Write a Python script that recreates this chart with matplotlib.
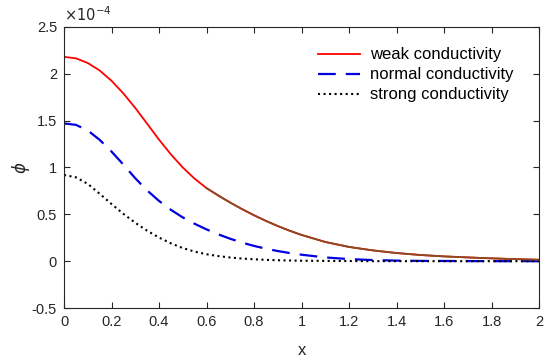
import numpy as np
import matplotlib
matplotlib.use('Agg')
import matplotlib.pyplot as plt

plt.rcParams['font.family'] = ['Liberation Sans', 'DejaVu Sans']
plt.rcParams['axes.unicode_minus'] = False

# x positions (finer steps on the steep part)
x = [0.0, 0.05, 0.1, 0.15, 0.2, 0.25, 0.3, 0.35, 0.4, 0.45, 0.5,
     0.55, 0.6, 0.65, 0.7, 0.75, 0.8, 0.85, 0.9, 0.95, 1.0,
     1.1, 1.2, 1.3, 1.4, 1.5, 1.6, 1.7, 1.8, 1.9, 2.0]

# phi values, in units of 1e-4
weak = [2.18, 2.165, 2.115, 2.035, 1.925, 1.79, 1.635, 1.467, 1.297, 1.14, 1.0,
        0.88, 0.78, 0.70, 0.625, 0.555, 0.49, 0.43, 0.375, 0.325, 0.28,
        0.205, 0.152, 0.115, 0.087, 0.066, 0.051, 0.04, 0.03, 0.022, 0.015]
normal = [1.47, 1.455, 1.395, 1.295, 1.17, 1.03, 0.885, 0.755, 0.643, 0.548, 0.467,
          0.399, 0.339, 0.286, 0.239, 0.198, 0.163, 0.133, 0.108, 0.087, 0.069,
          0.04, 0.022, 0.012, 0.006, 0.003, 0.002, 0.001, 0.0, 0.0, 0.0]
strong = [0.92, 0.895, 0.825, 0.72, 0.61, 0.505, 0.41, 0.325, 0.252, 0.19, 0.14,
          0.102, 0.074, 0.054, 0.039, 0.028, 0.02, 0.014, 0.01, 0.007, 0.005,
          0.003, 0.0015, 0.0, 0.0, 0.0, 0.0, 0.0, 0.0, 0.0, 0.0]

x = np.array(x)
weak = np.array(weak)

fig = plt.figure(figsize=(5.5, 3.59), dpi=100)
ax = fig.add_axes([0.1164, 0.142, 0.8636, 0.783])

ax.plot(x, weak, '-', color='#ff0000', linewidth=1.3, label='weak conductivity')
ax.plot(x, normal, '--', color='#0000e0', linewidth=1.6, dashes=(8, 4.5),
        label='normal conductivity')
ax.plot(x, strong, ':', color='black', linewidth=1.5, label='strong conductivity')
# brownish overlay on the tail of the red curve
tail = x >= 0.6
ax.plot(x[tail], weak[tail], '-', color='#8a4a22', linewidth=1.3)

ax.set_xlim(0, 2)
ax.set_ylim(-0.5, 2.5)
ax.set_xticks(np.arange(0, 2.01, 0.2))
ax.set_xticklabels(['0', '0.2', '0.4', '0.6', '0.8', '1', '1.2', '1.4', '1.6', '1.8', '2'])
ax.set_yticks([-0.5, 0, 0.5, 1, 1.5, 2, 2.5])
ax.set_yticklabels(['-0.5', '0', '0.5', '1', '1.5', '2', '2.5'])

ax.tick_params(direction='in', top=True, right=True, length=4, width=0.8,
               labelsize=10.5, colors='#262626', pad=5)
for s in ax.spines.values():
    s.set_color('#262626')
    s.set_linewidth(0.8)

ax.set_xlabel('x', fontsize=12, color='#262626', labelpad=10)
ax.set_ylabel(r'$\phi$', fontsize=12, color='#262626', labelpad=0)
ax.text(0.0, 1.01, r'$\times10^{-4}$', transform=ax.transAxes, fontsize=10.5,
        color='#262626', ha='left', va='bottom')

ax.legend(loc='upper left', frameon=False, fontsize=12, handlelength=2.5,
          handletextpad=0.6, bbox_to_anchor=(0.535, 0.927), borderaxespad=0,
          borderpad=0, labelspacing=0.3)

fig.savefig('out.png', dpi=100)
